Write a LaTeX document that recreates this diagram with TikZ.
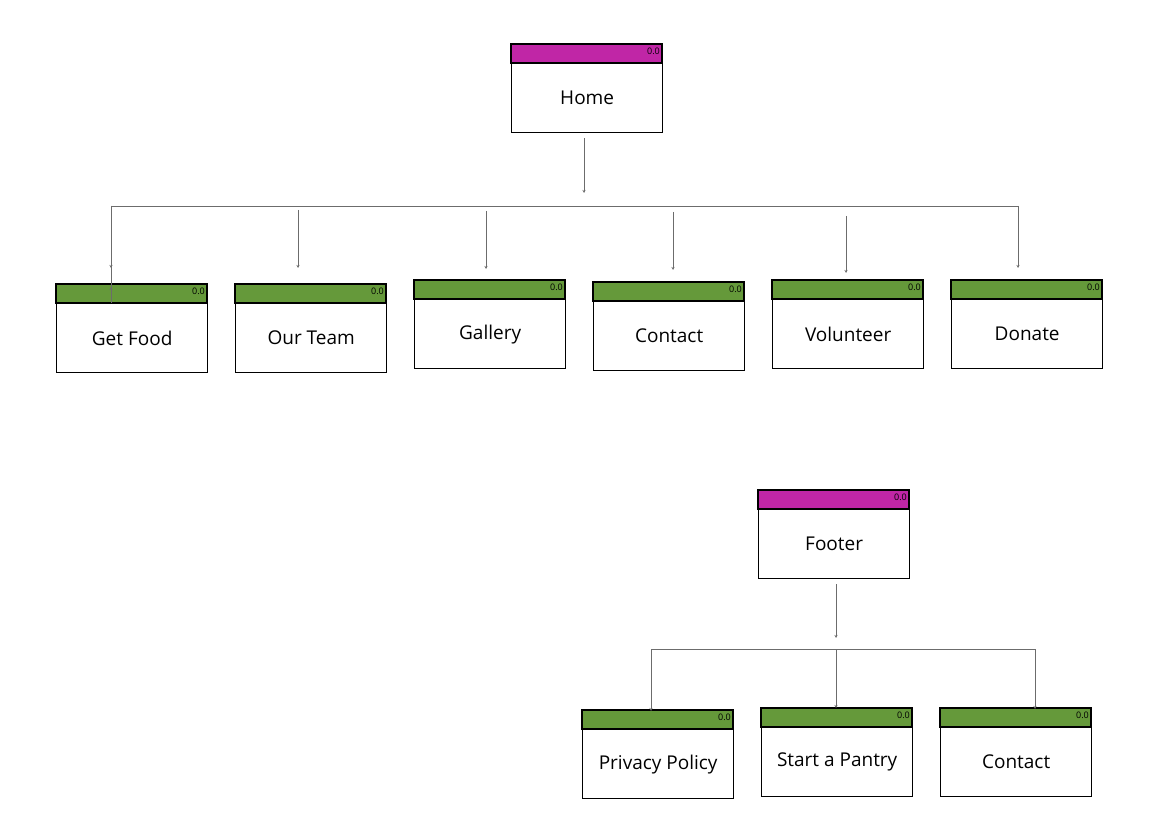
\documentclass[tikz,border=0pt]{standalone}
\usepackage{fontspec}
\setmainfont{Open Sans}
\usetikzlibrary{arrows.meta}
\begin{document}
\begin{tikzpicture}[x=1pt,y=-1pt,
  page/.style={draw=black,line width=1.3pt,fill=white,minimum width=151pt,minimum height=69pt,inner sep=0pt,font=\fontsize{19}{22}\selectfont,anchor=north west},
  conn/.style={draw=gray!85!black,line width=0.7pt},
  arr/.style={conn,-{Stealth[length=3pt,width=3pt]}}]
\useasboundingbox (0,0) rectangle (1176,818);
\newcommand{\pg}[5]{% name x y colour text
  \fill[#4,draw=black,line width=1.3pt] (#2,#3) rectangle ++(151,19);
  \node[anchor=north east,inner sep=0pt,font=\fontsize{9}{10}\selectfont] at (#2+149,#3+4) {0.0};
  \node[page] (#1) at (#2,#3+19) {#5};}
\definecolor{mag}{HTML}{C026A6}
\definecolor{grn}{HTML}{65993A}
\pg{home}{511}{44}{mag}{Home}
\pg{getfood}{56}{284}{grn}{Get Food}
\pg{team}{235}{284}{grn}{Our Team}
\pg{gallery}{414}{280}{grn}{Gallery}
\pg{contact}{593}{282}{grn}{Contact}
\pg{vol}{772}{280}{grn}{Volunteer}
\pg{donate}{951}{280}{grn}{Donate}
\pg{footer}{758}{490}{mag}{Footer}
\pg{privacy}{582}{710}{grn}{Privacy Policy}
\pg{pantry}{761}{708}{grn}{Start a Pantry}
\pg{fcontact}{940}{708}{grn}{Contact}
% top connectors
\coordinate (h1) at (584,193);
\draw[arr] (home.south -| h1) ++(0,5) -- (h1);
\draw[conn] (111,206) coordinate (ja) -- (1018,206) coordinate (jb);
\draw[arr] (ja) -- (ja |- getfood.north) ++(0,-16) coordinate (e1);
\draw[arr] (ja) -- (111,268);
\draw[arr] (298,210) -- (298,268);
\draw[arr] (486,211) -- (486,269);
\draw[arr] (673,212) -- (673,270);
\draw[arr] (846,216) -- (846,273);
\draw[arr] (jb) -- (1018,268);
% footer connectors
\draw[arr] (footer.south -| 836,0) ++(0,5) -- (836,638);
\draw[conn] (651,649) coordinate (fa) -- (1035,649) coordinate (fb);
\draw[arr] (fa) -- (651,711);
\draw[arr] (836,649) -- (836,708);
\draw[arr] (fb) -- (1035,709);
\end{tikzpicture}
\end{document}
